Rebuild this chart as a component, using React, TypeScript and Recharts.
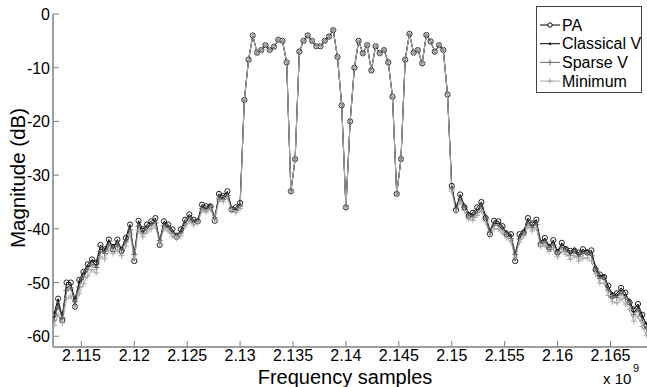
import React from 'react';
import { LineChart, Line, XAxis, YAxis } from 'recharts';

const FONT = '"Liberation Sans", Arial, Helvetica, sans-serif';

// frequency samples in MHz (axis shows GHz x 10^9 style)
const freqMHz = [
  2112.4, 2112.8, 2113.2, 2113.6, 2114, 2114.4, 2114.8, 2115.2, 2115.6, 2116,
  2116.4, 2116.8, 2117.2, 2117.6, 2118, 2118.4, 2118.8, 2119.2, 2119.6, 2120,
  2120.4, 2120.8, 2121.2, 2121.6, 2122, 2122.4, 2122.8, 2123.2, 2123.6, 2124,
  2124.4, 2124.8, 2125.2, 2125.6, 2126, 2126.4, 2126.8, 2127.2, 2127.6, 2128,
  2128.4, 2128.8, 2129.2, 2129.6, 2130, 2130.4, 2130.8, 2131.2, 2131.6, 2132,
  2132.4, 2132.8, 2133.2, 2133.6, 2134, 2134.4, 2134.8, 2135.2, 2135.6, 2136,
  2136.4, 2136.8, 2137.2, 2137.6, 2138, 2138.4, 2138.8, 2139.2, 2139.6, 2140,
  2140.4, 2140.8, 2141.2, 2141.6, 2142, 2142.4, 2142.8, 2143.2, 2143.6, 2144,
  2144.4, 2144.8, 2145.2, 2145.6, 2146, 2146.4, 2146.8, 2147.2, 2147.6, 2148,
  2148.4, 2148.8, 2149.2, 2149.6, 2150, 2150.4, 2150.8, 2151.2, 2151.6, 2152,
  2152.4, 2152.8, 2153.2, 2153.6, 2154, 2154.4, 2154.8, 2155.2, 2155.6, 2156,
  2156.4, 2156.8, 2157.2, 2157.6, 2158, 2158.4, 2158.8, 2159.2, 2159.6, 2160,
  2160.4, 2160.8, 2161.2, 2161.6, 2162, 2162.4, 2162.8, 2163.2, 2163.6, 2164,
  2164.4, 2164.8, 2165.2, 2165.6, 2166, 2166.4, 2166.8, 2167.2, 2167.6, 2168,
  2168.4,
];

// lower adjacent channel (dB)
const paLeft = [
  -56, -53, -57, -50, -50, -54.5, -49.5, -48, -46.6, -45.7,
  -46.3, -43, -43.8, -42, -43.8, -42, -44.1, -41.7, -39.2, -46,
  -38.5, -40.1, -39.2, -38.6, -38, -43, -38.6, -39.2, -40.1, -41.5,
  -40.1, -38.3, -37.3, -38.3, -38.6, -35.5, -35.8, -35.8, -38.5, -33.5,
  -33.9, -33, -36.4, -36, -35.2,
];
const cvLeft = [
  -56.5, -54, -56, -51, -50.5, -53, -50, -48.5, -47, -46,
  -46.8, -43.8, -44, -42.5, -43, -42.8, -43.5, -42, -39.8, -44.5,
  -39, -40.5, -39.6, -39, -38.6, -42, -39, -39.5, -40.4, -41,
  -40.6, -38.8, -37.8, -38.6, -38.2, -35.9, -36.2, -35.5, -37.8, -34,
  -34.2, -33.4, -36, -36.3, -35.5,
];
const svLeft = [
  -57, -54.5, -56.5, -51.5, -51, -53.5, -50.8, -49, -47.6, -46.6,
  -47.2, -44.2, -44.6, -43, -43.6, -43.2, -44, -42.4, -40.2, -44.8,
  -39.5, -40.8, -40, -39.3, -38.9, -42.2, -39.4, -39.8, -40.8, -41.2,
  -40.8, -39.1, -38.1, -38.9, -38.5, -36.2, -36.5, -35.9, -37.9, -34.4,
  -34.5, -33.8, -36.2, -36.6, -35.8,
];
const mnLeft = [
  -58, -56, -57.5, -53, -52.5, -54.5, -52, -50.2, -48.8, -47.6,
  -48.2, -45.2, -45.6, -44, -44.6, -44, -45, -43.2, -41, -45.5,
  -40.2, -41.5, -40.6, -40, -39.5, -42.8, -40, -40.4, -41.3, -41.8,
  -41.3, -39.6, -38.6, -39.3, -38.9, -36.6, -36.9, -36.3, -38.3, -34.8,
  -34.9, -34.2, -36.6, -37, -36.2,
];

// in-band part, all four curves coincide here
const inBand = [
  -16, -8.5, -4, -7.2, -6.7, -5.8, -6.7, -6.1, -4.8, -5,
  -9, -33, -27, -7, -5, -4, -5, -6, -6, -5,
  -4.2, -3, -8, -17, -36, -20, -10, -5, -7.3, -5.8,
  -10.5, -6, -7.3, -6.7, -9, -15.4, -33.5, -27, -8.5, -3.7,
  -7.2, -6.7, -9.2, -3.9, -5.1, -7, -5.8, -6.7, -15,
];

// upper adjacent channel (dB)
const paRight = [
  -32, -36.5, -33.6, -36, -37.6, -37, -36, -35, -38, -41,
  -38.5, -38.6, -39.5, -41, -41, -46, -41, -40.7, -38, -39,
  -38.3, -42.9, -41.7, -43.5, -42.1, -44.4, -42.6, -43.8, -44.1, -44.1,
  -44.4, -43.8, -44.4, -44, -47.6, -48.5, -49, -50.6, -52.5, -52,
  -51, -51.9, -53.7, -55, -54, -56, -58,
];
const cvRight = [
  -32.3, -35.8, -34, -35.5, -37, -37.4, -36.5, -35.6, -37.5, -40.2,
  -39, -39, -39.8, -40.5, -41.4, -44.5, -41.5, -40.2, -38.6, -39.4,
  -38.8, -42.2, -42, -43, -42.6, -44, -43, -43.4, -44.5, -43.6,
  -44.8, -44.2, -44, -44.6, -47, -48.8, -48.6, -51, -52, -52.4,
  -51.5, -52.4, -53.2, -55.5, -54.6, -56.4, -57.6,
];
const svRight = [
  -32.6, -36.2, -34.4, -36, -37.6, -37.8, -36.9, -36, -38, -40.6,
  -39.3, -39.4, -40.2, -41, -41.8, -44.8, -41.9, -40.7, -39, -39.8,
  -39.2, -42.6, -42.4, -43.5, -43, -44.5, -43.4, -43.9, -44.9, -44.1,
  -45.2, -44.6, -44.5, -45, -47.5, -49.2, -49.1, -51.4, -52.6, -52.8,
  -52, -52.9, -53.8, -56, -55.1, -57, -58.6,
];
const mnRight = [
  -33, -36.8, -35, -36.6, -38.2, -38.4, -37.5, -36.6, -38.7, -41.2,
  -40, -40, -40.8, -41.7, -42.4, -45.4, -42.5, -41.3, -39.6, -40.4,
  -39.9, -43.3, -43.1, -44.2, -43.7, -45.2, -44.2, -44.7, -45.7, -45,
  -46, -45.5, -45.4, -46, -48.4, -50.1, -50.1, -52.4, -53.6, -53.8,
  -53.1, -54, -55, -57.2, -56.3, -58.2, -59.8,
];

const paDb = [...paLeft, ...inBand, ...paRight];
const cvDb = [...cvLeft, ...inBand, ...cvRight];
const svDb = [...svLeft, ...inBand, ...svRight];
const mnDb = [...mnLeft, ...inBand, ...mnRight];

const xTicks = [2115, 2120, 2125, 2130, 2135, 2140, 2145, 2150, 2155, 2160, 2165];
const yTicks = [-60, -50, -40, -30, -20, -10, 0];

const rows = freqMHz.map((f, i) => ({ f, pa: paDb[i], cv: cvDb[i], sv: svDb[i], mn: mnDb[i] }));

const AXIS = '#7f7f7f';
const SPARSE = '#6b6b6b';
const MINIMUM = '#a9a9a9';

const XTick = (props: any) => {
  const { x, y, payload } = props;
  return (
    <g>
      <line x1={x} y1={y} x2={x} y2={y - 6} stroke={AXIS} strokeWidth={1} />
      <text x={x} y={y + 14} textAnchor="middle" fontSize={16} fontFamily={FONT} fill="#000">
        {payload.value / 1000}
      </text>
    </g>
  );
};

const YTick = (props: any) => {
  const { x, y, payload } = props;
  return (
    <g>
      <line x1={x} y1={y} x2={x + 6} y2={y} stroke={AXIS} strokeWidth={1} />
      <text x={x - 3} y={y + 6} textAnchor="end" fontSize={16} fontFamily={FONT} fill="#000">
        {payload.value}
      </text>
    </g>
  );
};

const circleDot = (props: any) => {
  const { cx, cy, index } = props;
  return <circle key={'pa' + index} cx={cx} cy={cy} r={2.6} stroke="#222" strokeWidth={1} fill="none" />;
};

const smallDot = (props: any) => {
  const { cx, cy, index } = props;
  return <circle key={'cv' + index} cx={cx} cy={cy} r={1} fill="#000" />;
};

const plusDot = (color: string, tag: string) => (props: any) => {
  const { cx, cy, index } = props;
  return (
    <path
      key={tag + index}
      d={`M${cx - 3},${cy}H${cx + 3}M${cx},${cy - 3}V${cy + 3}`}
      stroke={color}
      strokeWidth={1}
      fill="none"
    />
  );
};

const legendItems = [
  { name: 'PA', color: '#000', marker: 'circle' },
  { name: 'Classical V', color: '#000', marker: 'dot' },
  { name: 'Sparse V', color: SPARSE, marker: 'plus' },
  { name: 'Minimum', color: MINIMUM, marker: 'plus' },
];

const App: React.FC = () => {
  return (
    <div style={{ position: 'absolute', left: 0, top: 0, width: 647, height: 387, background: '#fff' }}>
      <LineChart width={647} height={387} data={rows} margin={{ top: 14, right: 0, bottom: 0, left: 0 }}>
        <XAxis
          dataKey="f"
          type="number"
          domain={[2112.32, 2168.45]}
          allowDataOverflow
          ticks={xTicks}
          interval={0}
          height={40}
          tickSize={0}
          tickMargin={0}
          tick={<XTick />}
          axisLine={{ stroke: AXIS, strokeWidth: 1.5 }}
        />
        <YAxis
          type="number"
          domain={[-62, 0]}
          allowDataOverflow
          ticks={yTicks}
          interval={0}
          width={53}
          tickSize={0}
          tickMargin={0}
          tick={<YTick />}
          axisLine={{ stroke: AXIS, strokeWidth: 1.5 }}
        />
        <Line dataKey="pa" type="linear" stroke="#000" strokeWidth={1} dot={circleDot} activeDot={false} isAnimationActive={false} />
        <Line dataKey="cv" type="linear" stroke="#111" strokeWidth={1} dot={smallDot} activeDot={false} isAnimationActive={false} />
        <Line dataKey="sv" type="linear" stroke={SPARSE} strokeWidth={1} dot={plusDot(SPARSE, 'sv')} activeDot={false} isAnimationActive={false} />
        <Line dataKey="mn" type="linear" stroke={MINIMUM} strokeWidth={1} dot={plusDot(MINIMUM, 'mn')} activeDot={false} isAnimationActive={false} />
      </LineChart>
      <svg width={647} height={387} style={{ position: 'absolute', left: 0, top: 0, pointerEvents: 'none' }}>
        <text transform="translate(25,178) rotate(-90)" textAnchor="middle" fontSize={20.5} fontFamily={FONT} fill="#000">
          Magnitude (dB)
        </text>
        <text x={345} y={383.5} textAnchor="middle" fontSize={20} fontFamily={FONT} fill="#000">
          Frequency samples
        </text>
        <text x={603} y={384} fontSize={15} fontFamily={FONT} fill="#000">x 10</text>
        <text x={633} y={372} fontSize={11} fontFamily={FONT} fill="#000">9</text>
        <rect x={536.5} y={6.5} width={105} height={86} fill="#fff" stroke="#444" strokeWidth={1} />
        {legendItems.map((it, k) => {
          const cy = 25 + k * 18.7;
          return (
            <g key={it.name}>
              <line x1={540} y1={cy} x2={560} y2={cy} stroke={it.color} strokeWidth={1} />
              {it.marker === 'circle' && <circle cx={550} cy={cy} r={2.2} stroke="#000" fill="#fff" />}
              {it.marker === 'dot' && <circle cx={550} cy={cy} r={1.2} fill="#000" />}
              {it.marker === 'plus' && (
                <path d={`M547,${cy}H553M550,${cy - 3}V${cy + 3}`} stroke={it.color} strokeWidth={1} />
              )}
              <text x={562} y={cy + 5.5} fontSize={16} fontFamily={FONT} fill="#000">{it.name}</text>
            </g>
          );
        })}
      </svg>
    </div>
  );
};

export default App;
